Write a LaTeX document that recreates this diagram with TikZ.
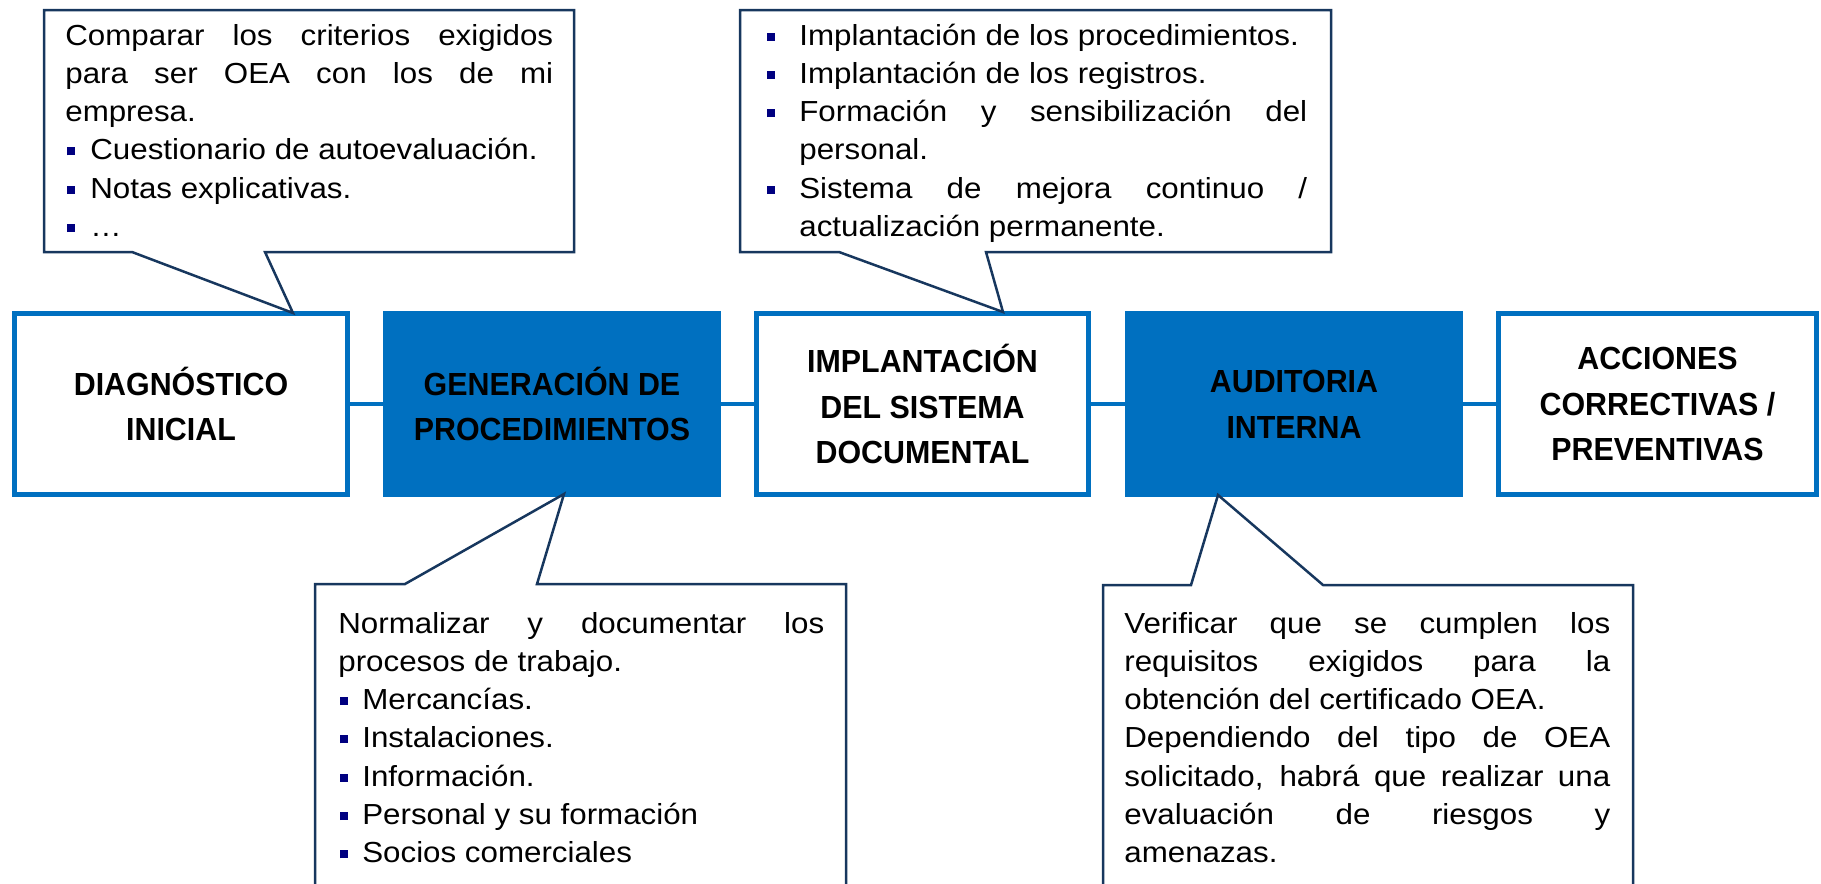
\documentclass[tikz,border=0pt]{standalone}
\usepackage{fontspec}
\setmainfont{Liberation Sans}[FakeStretch=1.08]
\newfontfamily\stepfont{Liberation Sans}[FakeStretch=0.95]

\definecolor{stepblue}{RGB}{0,112,192}
\definecolor{noteblue}{RGB}{23,55,94}
\definecolor{bulletblue}{RGB}{0,0,128}

\hyphenpenalty=10000
\newcommand{\bul}[1]{\hangindent=#1\hangafter=1\noindent\makebox[#1][l]{\hspace{0.04cm}\textcolor{bulletblue}{\rule[0.09cm]{0.16cm}{0.16cm}}}}

\tikzset{
  stepbox/.style={draw=stepblue, line width=0.1cm, minimum width=6.66cm, minimum height=3.62cm, inner sep=0pt, align=center, font=\stepfont\bfseries\fontsize{18.2pt}{26.1pt}\selectfont},
  stepfill/.style={stepbox, fill=stepblue},
  link/.style={stepblue, line width=0.09cm},
  noteline/.style={noteblue, line width=0.05cm},
  notetext/.style={anchor=base west, inner sep=0pt, align=justify, font=\fontsize{16.5pt}{21.8pt}\selectfont}
}

\begin{document}
\begin{tikzpicture}[x=0.02cm,y=-0.02cm]
\useasboundingbox (0,0) rectangle (1821,883);

% steps
\node[stepbox] (b1) at (181,404) {DIAGNÓSTICO\\INICIAL};
\node[stepfill] (b2) at (552,404) {GENERACIÓN DE\\PROCEDIMIENTOS};
\node[stepbox] (b3) at (922.5,404) {IMPLANTACIÓN\\DEL SISTEMA\\DOCUMENTAL};
\node[stepfill] (b4) at (1294,404) {AUDITORIA\\INTERNA};
\node[stepbox, minimum width=6.36cm] (b5) at (1657.5,404) {ACCIONES\\CORRECTIVAS /\\PREVENTIVAS};

\draw[link] (b1) -- (b2);
\draw[link] (b2) -- (b3);
\draw[link] (b3) -- (b4);
\draw[link] (b4) -- (b5);

% notes
\coordinate (t1) at (293,313);
\coordinate (t2) at (1003,312);
\coordinate (t3) at (564,494);
\coordinate (t4) at (1218,495);

\draw[noteline] (44,10) -- (574,10) -- (574,252) -- (265,252) -- (t1) -- (132,252) -- (44,252) -- cycle;
\draw[noteline] (740,10) -- (1331,10) -- (1331,252) -- (986,252) -- (t2) -- (839,252) -- (740,252) -- cycle;
\draw[noteline] (315,900) -- (315,584) -- (405,584) -- (t3) -- (537,584) -- (846,584) -- (846,900);
\draw[noteline] (1103,900) -- (1103,585) -- (1191,585) -- (t4) -- (1323,585) -- (1633,585) -- (1633,900);

\node[notetext, text width=9.76cm] (n1) at (65,45) {Comparar los criterios exigidos\linebreak para ser OEA con los de mi\linebreak empresa.\par\bul{0.5cm}Cuestionario de autoevaluación.\par\bul{0.5cm}Notas explicativas.\par\bul{0.5cm}…\par};
\node[notetext, text width=10.84cm] (n2) at (765,45) {\bul{0.68cm}Implantación de los procedimientos.\par\bul{0.68cm}Implantación de los registros.\par\bul{0.68cm}Formación y sensibilización del\linebreak personal.\par\bul{0.68cm}Sistema de mejora continuo /\linebreak actualización permanente.\par};
\node[notetext, text width=9.72cm] (n3) at (338,633) {Normalizar y documentar los\linebreak procesos de trabajo.\par\bul{0.48cm}Mercancías.\par\bul{0.48cm}Instalaciones.\par\bul{0.48cm}Información.\par\bul{0.48cm}Personal y su formación\par\bul{0.48cm}Socios comerciales\par};
\node[notetext, text width=9.72cm] (n4) at (1124,633) {Verificar que se cumplen los\linebreak requisitos exigidos para la\linebreak obtención del certificado OEA.\par Dependiendo del tipo de OEA\linebreak solicitado, habrá que realizar una\linebreak evaluación de riesgos y\linebreak amenazas.\par};
\end{tikzpicture}
\end{document}
